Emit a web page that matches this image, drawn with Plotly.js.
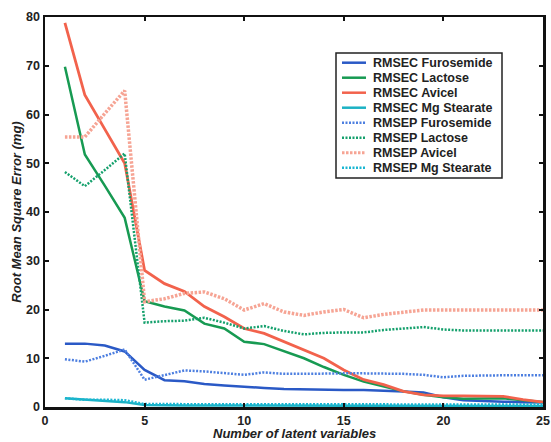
<!DOCTYPE html>
<html>
<head>
<meta charset="utf-8">
<script src="https://cdn.plot.ly/plotly-3.0.1.min.js"></script>
<style>html,body{margin:0;padding:0;background:#fff;}#chart{width:551px;height:442px;}</style>
</head>
<body>
<div id="chart"></div>
<script>
const latentVars = [1,2,3,4,5,6,7,8,9,10,11,12,13,14,15,16,17,18,19,20,21,22,23,24,25];

const rmsecFurosemide = [13.0,13.0,12.6,11.4,7.6,5.5,5.3,4.7,4.4,4.1,3.9,3.7,3.6,3.6,3.5,3.5,3.4,3.2,3.0,2.0,1.4,1.2,1.1,1.0,0.9];
const rmsecLactose    = [69.8,51.8,45.4,38.8,21.7,20.6,19.8,17.1,16.1,13.4,12.9,11.4,10.0,8.2,6.6,5.2,4.2,3.2,2.5,2.0,1.7,1.7,1.8,1.4,1.0];
const rmsecAvicel     = [78.8,64.0,57.0,50.0,28.0,25.3,23.7,20.6,18.5,16.1,15.1,13.4,11.7,10.0,7.6,5.6,4.6,3.2,2.5,2.3,2.3,2.2,2.2,1.5,1.0];
const rmsecMgStearate = [1.8,1.5,1.2,1.0,0.4,0.3,0.3,0.3,0.3,0.3,0.3,0.3,0.3,0.3,0.3,0.3,0.3,0.3,0.3,0.3,0.2,0.2,0.2,0.2,0.2];

const rmsepFurosemide = [9.8,9.3,10.5,11.8,5.6,6.6,7.5,7.3,7.0,6.6,7.1,6.8,6.8,6.9,6.9,6.9,6.9,6.8,6.6,6.1,6.4,6.5,6.5,6.5,6.5];
const rmsepLactose    = [48.2,45.3,48.6,52.0,17.3,17.6,17.7,18.3,17.3,16.1,16.6,15.6,14.9,15.2,15.3,15.3,15.8,16.1,16.4,15.9,15.7,15.7,15.7,15.7,15.7];
const rmsepAvicel     = [55.4,55.4,60.2,64.9,21.6,22.2,23.3,23.6,22.2,19.9,21.2,19.5,18.8,19.5,20.0,18.3,19.0,19.5,19.9,19.9,19.9,19.9,19.9,19.9,19.9];
const rmsepMgStearate = [1.8,1.5,1.5,1.4,0.6,0.6,0.6,0.5,0.5,0.5,0.5,0.5,0.5,0.5,0.5,0.5,0.5,0.5,0.5,0.5,0.5,0.5,0.5,0.5,0.5];

const xTickVals = [0,5,10,15,20,25];
const yTickVals = [0,10,20,30,40,50,60,70,80];

const seriesNames = ['RMSEC Furosemide','RMSEC Lactose','RMSEC Avicel','RMSEC Mg Stearate',
                     'RMSEP Furosemide','RMSEP Lactose','RMSEP Avicel','RMSEP Mg Stearate'];
const seriesData = [rmsecFurosemide, rmsecLactose, rmsecAvicel, rmsecMgStearate,
                    rmsepFurosemide, rmsepLactose, rmsepAvicel, rmsepMgStearate];
const seriesColors = ['#2a59c6','#179a52','#f2624c','#1cb2c4',
                      '#4d7fe0','#14a06c','#f6a494','#1ab6d2'];
const seriesDash = ['solid','solid','solid','solid','2px,1.5px','2px,1.5px','2.5px,1.5px','2px,1.5px'];
const seriesWidth = [2.5,2.5,2.8,2.5,2.5,2.5,3.5,2.5];

const traces = seriesNames.map((n,i)=>({
  x: latentVars, y: seriesData[i], name: n, type:'scatter', mode:'lines',
  line:{color:seriesColors[i], width:seriesWidth[i], dash:seriesDash[i]}
}));

// plot-area geometry in pixels (for placing the hand-built legend)
const W = 551, H = 442, M = {l:45, r:8, t:17, b:35};
const pw = W - M.l - M.r, ph = H - M.t - M.b;
const px = x => (x - M.l) / pw;
const py = y => (H - M.b - y) / ph;

const fontFam = 'Arial, Liberation Sans, sans-serif';
const shapes = [{type:'rect', xref:'paper', yref:'paper', layer:'above',
  x0:px(336), x1:px(502), y0:py(178), y1:py(53),
  line:{color:'#222', width:1.5}, fillcolor:'#fff'}];
const annotations = [];
seriesNames.forEach((n,i)=>{
  const cy = 62.7 + 15*i;
  shapes.push({type:'line', xref:'paper', yref:'paper', layer:'above',
    x0:px(342), x1:px(366), y0:py(cy), y1:py(cy),
    line:{color:seriesColors[i], width:i===6 ? 3 : 2.5, dash:seriesDash[i]}});
  annotations.push({xref:'paper', yref:'paper', x:px(371), y:py(cy), xanchor:'left', yanchor:'middle',
    text:n, showarrow:false,
    font:{family:fontFam, size:12.5, color:'#222', weight:'bold'}});
});
annotations.push({xref:'paper', yref:'paper', x:0.5, y:py(433.5), xanchor:'center', yanchor:'middle',
  text:'Number of latent variables', showarrow:false, borderpad:0,
  font:{family:fontFam, size:13, color:'#222', weight:'bold', style:'italic'}});

const axisFont = {family:fontFam, size:12.5, color:'#222', weight:'bold'};
const layout = {
  width:W, height:H,
  margin:M,
  paper_bgcolor:'#fff', plot_bgcolor:'#fff',
  showlegend:false,
  shapes: shapes,
  annotations: annotations,
  xaxis:{range:[0,25], tickvals:xTickVals, ticks:'inside', ticklen:4, tickwidth:2,
    tickcolor:'#111', showline:true, linecolor:'#111', linewidth:2.5, mirror:'ticks',
    showgrid:false, zeroline:false, tickfont:axisFont, automargin:false},
  yaxis:{range:[0,80], tickvals:yTickVals, ticks:'inside', ticklen:4, tickwidth:2,
    tickcolor:'#111', showline:true, linecolor:'#111', linewidth:2.5, mirror:'ticks',
    showgrid:false, zeroline:false, tickfont:axisFont, automargin:false,
    title:{text:'Root Mean Square Error (mg)', standoff:2,
      font:{family:fontFam, size:13, color:'#222', weight:'bold', style:'italic'}}}
};

Plotly.newPlot('chart', traces, layout, {displayModeBar:false, staticPlot:true});
</script>
</body>
</html>
